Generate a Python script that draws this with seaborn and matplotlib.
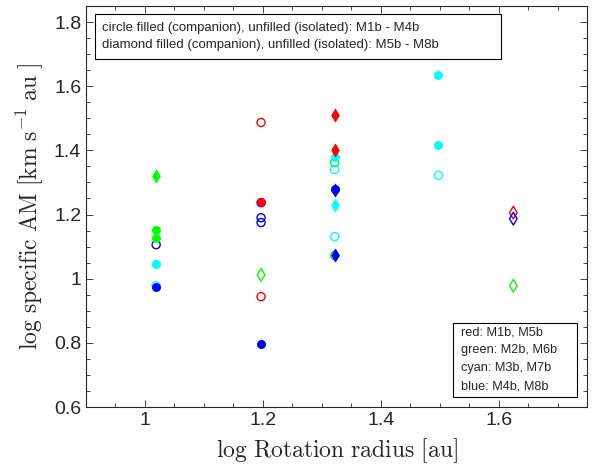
import matplotlib
matplotlib.use("Agg")
import matplotlib.pyplot as plt
import seaborn as sns
import pandas as pd
from matplotlib.ticker import MultipleLocator
from matplotlib.patches import Rectangle

sns.set_style("ticks")
plt.rcParams['font.family'] = ['Liberation Sans', 'DejaVu Sans']
plt.rcParams['mathtext.fontset'] = 'cm'

# ---- data (log rotation radius [au], log specific AM) ----
red_circ_filled_x = [1.197];               red_circ_filled_y = [1.240]
red_circ_open_x = [1.197, 1.197];          red_circ_open_y = [1.487, 0.944]
green_circ_filled_x = [1.019, 1.019];      green_circ_filled_y = [1.153, 1.128]
green_circ_open_x = [1.322, 1.322];        green_circ_open_y = [1.362, 1.072]
cyan_circ_filled_x = [1.019, 1.322, 1.498, 1.498]
cyan_circ_filled_y = [1.047, 1.378, 1.634, 1.416]
cyan_circ_open_x = [1.019, 1.322, 1.322, 1.498]
cyan_circ_open_y = [0.978, 1.340, 1.131, 1.322]
blue_circ_filled_x = [1.019, 1.197, 1.322]
blue_circ_filled_y = [0.975, 0.797, 1.281]
blue_circ_open_x = [1.019, 1.197, 1.197, 1.197]
blue_circ_open_y = [1.106, 1.237, 1.190, 1.175]

red_dia_filled_x = [1.322, 1.322];         red_dia_filled_y = [1.509, 1.400]
red_dia_open_x = [1.625];                  red_dia_open_y = [1.206]
green_dia_filled_x = [1.019];              green_dia_filled_y = [1.319]
green_dia_open_x = [1.197, 1.625];         green_dia_open_y = [1.012, 0.978]
cyan_dia_filled_x = [1.322];               cyan_dia_filled_y = [1.231]
blue_dia_filled_x = [1.322, 1.322];        blue_dia_filled_y = [1.275, 1.075]
blue_dia_open_x = [1.625];                 blue_dia_open_y = [1.187]

series = [
    # (x, y, colour, marker, filled)
    (red_circ_open_x, red_circ_open_y, 'red', 'o', False),
    (green_circ_open_x, green_circ_open_y, 'lime', 'o', False),
    (cyan_circ_open_x, cyan_circ_open_y, 'cyan', 'o', False),
    (blue_circ_open_x, blue_circ_open_y, 'blue', 'o', False),
    (red_dia_open_x, red_dia_open_y, 'red', 'd', False),
    (green_dia_open_x, green_dia_open_y, 'lime', 'd', False),
    (blue_dia_open_x, blue_dia_open_y, 'blue', 'd', False),
    (red_circ_filled_x, red_circ_filled_y, 'red', 'o', True),
    (green_circ_filled_x, green_circ_filled_y, 'lime', 'o', True),
    (cyan_circ_filled_x, cyan_circ_filled_y, 'cyan', 'o', True),
    (blue_circ_filled_x, blue_circ_filled_y, 'blue', 'o', True),
    (red_dia_filled_x, red_dia_filled_y, 'red', 'd', True),
    (green_dia_filled_x, green_dia_filled_y, 'lime', 'd', True),
    (cyan_dia_filled_x, cyan_dia_filled_y, 'cyan', 'd', True),
    (blue_dia_filled_x, blue_dia_filled_y, 'blue', 'd', True),
]

legend_top_lines = ['circle filled (companion), unfilled (isolated): M1b - M4b',
                    'diamond filled (companion), unfilled (isolated): M5b - M8b']
legend_colour_lines = ['red: M1b, M5b', 'green: M2b, M6b',
                       'cyan: M3b, M7b', 'blue: M4b, M8b']

fig = plt.figure(figsize=(5.95, 4.70), dpi=100)
ax = fig.add_axes([86/595, 63/470, 501/595, 401/470])

for xs, ys, col, mk, filled in series:
    df = pd.DataFrame({'x': xs, 'y': ys})
    size = 34 if mk == 'o' else 42
    if filled:
        sns.scatterplot(data=df, x='x', y='y', ax=ax, marker=mk, s=size,
                        color=col, edgecolor=col, linewidth=0.6, zorder=3)
    else:
        sns.scatterplot(data=df, x='x', y='y', ax=ax, marker=mk, s=size,
                        facecolor='none', edgecolor=col, linewidth=1.0, zorder=2)

ax.set_xlim(0.9, 1.75)
ax.set_ylim(0.6, 1.85)
ax.xaxis.set_minor_locator(MultipleLocator(0.05))
ax.yaxis.set_minor_locator(MultipleLocator(0.05))
ax.set_xticks([1.0, 1.2, 1.4, 1.6])
ax.set_xticklabels(['1', '1.2', '1.4', '1.6'])
ax.set_yticks([0.6, 0.8, 1.0, 1.2, 1.4, 1.6, 1.8])
ax.set_yticklabels(['0.6', '0.8', '1', '1.2', '1.4', '1.6', '1.8'])
ax.tick_params(which='both', direction='in', top=True, right=True,
               labelsize=14, colors='#262626', width=0.6)
ax.tick_params(which='major', length=5)
ax.tick_params(which='minor', length=3)
for sp in ax.spines.values():
    sp.set_linewidth(0.8)
    sp.set_color('#262626')

ax.set_xlabel(r'$\mathrm{log\ Rotation\ radius\ [au]}$', fontsize=17, labelpad=5)
ax.set_ylabel(r'$\mathrm{log\ specific\ AM\ [km\ s^{-1}\ au\ ]}$', fontsize=17, labelpad=6)

# top annotation box (fixed-size textbox)
ax.add_patch(Rectangle((0.018, 0.868), 0.810, 0.112, transform=ax.transAxes,
                       fc='white', ec='black', lw=0.8, zorder=5))
for i, line in enumerate(legend_top_lines):
    ax.text(0.032, 0.945 - i * 0.042, line, transform=ax.transAxes,
            ha='left', va='center', fontsize=9.5, zorder=6)

# bottom-right annotation box
ax.add_patch(Rectangle((0.7325, 0.025), 0.2475, 0.1845, transform=ax.transAxes,
                       fc='white', ec='black', lw=0.8, zorder=5))
for i, line in enumerate(legend_colour_lines):
    ax.text(0.749, 0.187 - i * 0.0449, line, transform=ax.transAxes,
            ha='left', va='center', fontsize=9.2, zorder=6)

fig.savefig('out.png', dpi=100)
